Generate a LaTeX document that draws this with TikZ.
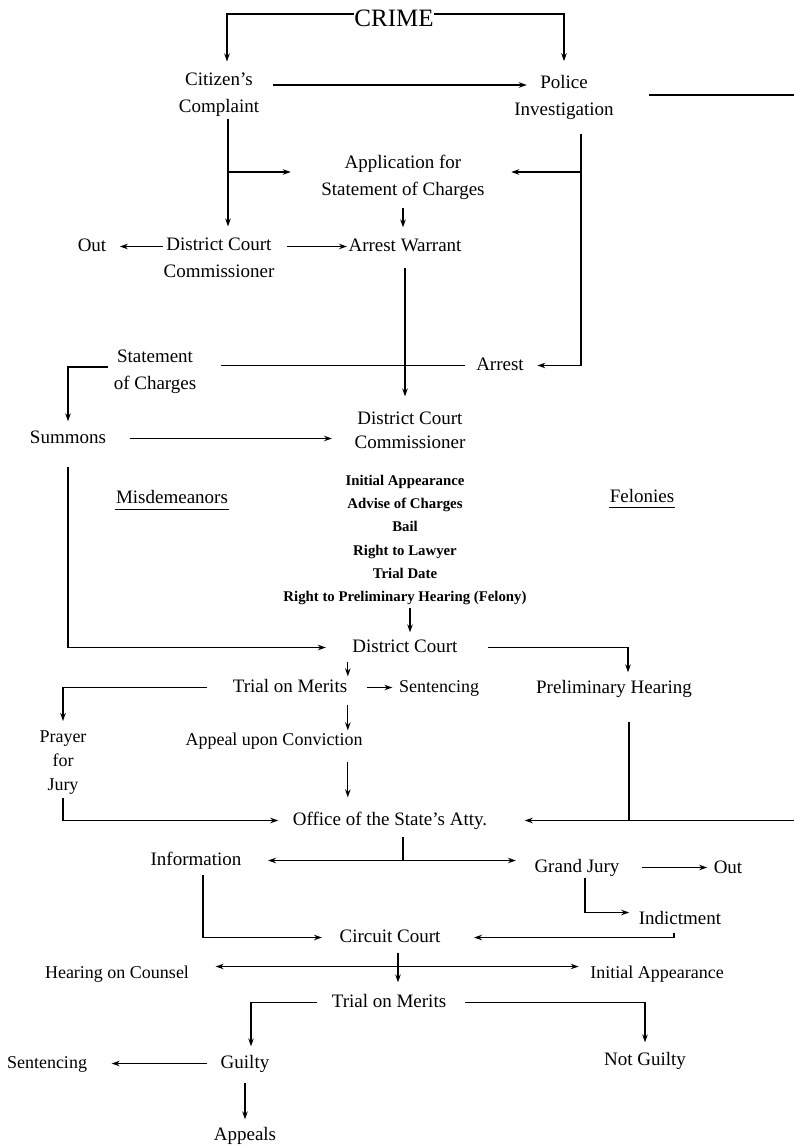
\documentclass[tikz,border=0pt]{standalone}
\usepackage{fontspec}
\setmainfont{Liberation Serif}
\usetikzlibrary{arrows.meta}
\tikzset{
	blk/.style={inner sep=0pt,align=center,font=\fontsize{19}{27}\selectfont},
	lbl/.style={inner sep=0pt,font=\fontsize{19}{23}\selectfont,text height=13pt,text depth=4pt},
	lblsm/.style={lbl,font=\fontsize{18}{22}\selectfont},
	big/.style={inner sep=0pt,font=\fontsize{25}{30}\selectfont},
	rlist/.style={inner sep=0pt,align=center,font=\fontsize{14.8}{23.2}\selectfont\bfseries}
}
\begin{document}
\begin{tikzpicture}[x=1pt,y=-1pt,>={Stealth[length=8pt,width=5.5pt]},line width=1.3pt]
	\useasboundingbox (0,0) rectangle (794,1146);
	\node[big] (crime) at (394,18) {CRIME};
	\node[blk] (cc) at (219,95) {Citizen's\\Complaint};
	\node[blk] (pi) at (564,97) {Police\\Investigation};
	\node[blk] (app) at (403,177) {Application for\\Statement of Charges};
	\node[blk] (dcc1) at (219,258) {District Court\\Commissioner};
	\node[lbl] (out1) at (92,246.5) {Out};
	\node[lbl] (aw) at (405,246.5) {Arrest Warrant};
	\node[blk] (soc) at (155,372) {Statement\\of Charges};
	\node[lbl] (arrest) at (500,365.5) {Arrest};
	\node[lbl] (summ) at (68,438.5) {Summons};
	\node[blk,font=\fontsize{19}{24}\selectfont] (dcc2) at (410,430.5) {District Court\\Commissioner};
	\node[lbl] (misd) at (172,498.5) {Misdemeanors};
	\node[lbl] (fel) at (642,497.5) {Felonies};
	\node[rlist] (rights) at (405,540) {Initial Appearance\\Advise of Charges\\Bail\\Right to Lawyer\\Trial Date\\Right to Preliminary Hearing (Felony)};
	\node[lbl] (dc) at (405,647.5) {District Court};
	\node[lbl] (tm1) at (290,687.5) {Trial on Merits};
	\node[lblsm] (sent1) at (439,687.5) {Sentencing};
	\node[lbl] (ph) at (614,688.5) {Preliminary Hearing};
	\node[blk,font=\fontsize{18}{24}\selectfont] (pj) at (63,762.5) {Prayer\\for\\Jury};
	\node[lblsm] (auc) at (274,740.5) {Appeal upon Conviction};
	\node[lbl] (osa) at (390,820.5) {Office of the State's Atty.};
	\node[lbl] (info) at (196,860.5) {Information};
	\node[lbl] (gj) at (577,867.5) {Grand Jury};
	\node[lbl] (out2) at (728,868.5) {Out};
	\node[lbl] (ind) at (680,919.5) {Indictment};
	\node[lbl] (circ) at (390,937.5) {Circuit Court};
	\node[lblsm] (hoc) at (117,973.5) {Hearing on Counsel};
	\node[lblsm] (ia) at (657,973.5) {Initial Appearance};
	\node[lbl] (tm2) at (389,1002.5) {Trial on Merits};
	\node[lbl] (guilty) at (245,1063.5) {Guilty};
	\node[lbl] (ng) at (645,1060.5) {Not Guilty};
	\node[lblsm] (sent2) at (47,1063.5) {Sentencing};
	\node[lbl] (appeals) at (245,1135.5) {Appeals};
	\coordinate (offT) at (794,95);
	\coordinate (offB) at (794,820.5);
	\draw ([yshift=-2pt]misd.south west) -- ([yshift=-2pt]misd.south east);
	\draw ([yshift=-1pt]fel.south west) -- ([yshift=-1pt]fel.south east);
	\draw[->,shorten >=11pt] ([yshift=4pt]crime.west) -| ([xshift=8pt]cc.north);
	\draw[->,shorten >=13pt] ([yshift=4pt]crime.east) -| (pi.north);
	\draw[->] ([xshift=13pt,yshift=10pt]cc.east) -- ([xshift=13pt,yshift=12pt]pi.west);
	\draw ([xshift=35pt,yshift=2pt]pi.east) -- (offT);
	\draw[->,shorten <=2pt,shorten >=11pt] ([xshift=9pt]cc.south) -- ([xshift=9pt]dcc1.north);
	\draw[->,shorten >=30pt] ([xshift=9pt,yshift=5pt]cc.south |- app.west) -- ([yshift=5pt]app.west);
	\draw[->,shorten <=14pt,shorten >=13pt] ([xshift=17pt]pi.south) |- (arrest.east);
	\draw[->,shorten >=26pt] ([xshift=17pt,yshift=5pt]pi.south |- app.east) -- ([yshift=5pt]app.east);
	\draw[->,shorten <=8pt,shorten >=10pt] (app.south) -- (app.south |- aw.north);
	\draw[->,shorten >=13pt] (dcc1.west |- out1.east) -- (out1.east);
	\draw[->,shorten <=12pt,shorten >=1pt] (dcc1.east |- aw.west) -- (aw.west);
	\draw[->,shorten <=12pt,shorten >=15pt] (aw.south) -- (aw.south |- dcc2.north);
	\draw[shorten <=24pt,shorten >=11pt] (soc.east |- arrest.west) -- (arrest.west);
	\draw[->,shorten <=5pt,shorten >=8pt] ([yshift=5pt]soc.west) -| (summ.north);
	\draw[->,shorten <=23pt,shorten >=22pt] (summ.east) -- (dcc2.west |- summ.east);
	\draw[->,shorten <=19pt,shorten >=26pt] (summ.south) |- (dc.west);
	\draw[->,shorten <=3pt,shorten >=6pt] ([xshift=5pt]rights.south) -- ([xshift=5pt]dc.north);
	\draw[->,shorten <=30pt,shorten >=7pt] (dc.east) -| ([xshift=14pt]ph.north);
	\draw[->,shorten <=5pt,shorten >=2pt] (tm1.east |- dc.south) -- (tm1.north east);
	\draw[->,shorten <=19pt,shorten >=6pt] (tm1.east) -- (sent1.west);
	\draw[->,shorten <=8pt,shorten >=1pt] (tm1.south east) -- (tm1.east |- auc.north);
	\draw[->,shorten <=25pt,shorten >=9pt] (tm1.west) -| (pj.north);
	\draw[->,shorten <=12pt,shorten >=14pt] (tm1.east |- auc.south) -- (tm1.east |- osa.north);
	\draw[->,shorten <=3pt,shorten >=14pt] (pj.south) |- (osa.west);
	\draw[->,shorten >=37pt] (offB) -- (osa.east);
	\draw[shorten <=24pt] ([xshift=15pt]ph.south) -- ([xshift=15pt]ph.south |- osa.east);
	\draw[shorten <=7pt] ([xshift=13pt]osa.south) -- ([xshift=13pt]osa.south |- info.east) coordinate (split);
	\draw[->,shorten >=26pt] (split) -- (info.east);
	\draw[->,shorten >=18pt] (split) -- (gj.west |- split);
	\draw[->,shorten <=22pt,shorten >=6pt] (gj.east) -- (out2.west |- gj.east);
	\draw[->,shorten <=1pt,shorten >=9pt] ([xshift=8pt]gj.south) |- ([yshift=7pt]ind.west);
	\draw[->,shorten <=4pt,shorten >=33pt] ([xshift=-6pt]ind.south) |- (circ.east);
	\draw[->,shorten <=5pt,shorten >=17pt] ([xshift=7pt]info.south) |- (circ.west);
	\draw[->,shorten <=6pt,shorten >=11pt] ([xshift=8pt]circ.south) -- ([xshift=8pt]circ.south |- tm2.north);
	\draw[<->,shorten <=26pt,shorten >=11pt] ([yshift=7pt]hoc.east) -- ([yshift=7pt]ia.west);
	\draw[->,shorten <=14pt,shorten >=8pt] (tm2.west) -| ([xshift=6pt]guilty.north);
	\draw[->,shorten <=18pt,shorten >=9pt] (tm2.east) -| (ng.north);
	\draw[->,shorten <=13pt,shorten >=24pt] (guilty.west) -- (sent2.east);
	\draw[->,shorten <=10pt,shorten >=7pt] (guilty.south) -- (appeals.north);
\end{tikzpicture}
\end{document}
